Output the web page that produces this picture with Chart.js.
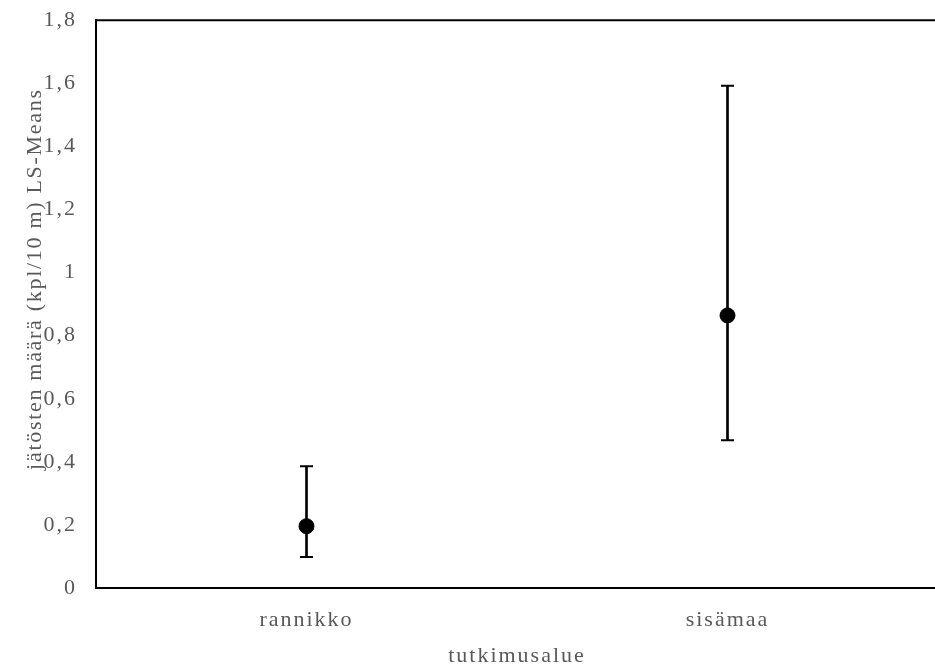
<!DOCTYPE html>
<html>
<head>
<meta charset="utf-8">
<script src="https://cdn.jsdelivr.net/npm/chart.js@4/dist/chart.umd.min.js"></script>
<style>
  html, body { margin: 0; padding: 0; background: #fff; overflow: hidden; }
  #wrap { position: absolute; left: 0; top: -12px; width: 938px; height: 684px; }
</style>
</head>
<body>
<div id="wrap"><canvas id="chart"></canvas></div>
<script>
const categories = ['rannikko', 'sisämaa'];
const means = [0.196, 0.864];
const lower = [0.098, 0.468];
const upper = [0.386, 1.592];
const yTicks = [0, 0.2, 0.4, 0.6, 0.8, 1, 1.2, 1.4, 1.6, 1.8];
const yTitle = 'jätösten määrä (kpl/10 m) LS-Means';

const textColor = '#595959';
const font = { family: 'Liberation Serif', size: 22 };

// Excel-like text is a bit wider; letterSpacing gets reset on canvas resize
const spacing = {
  id: 'spacing',
  beforeUpdate(chart) { chart.ctx.letterSpacing = '2px'; },
  beforeDraw(chart) { chart.ctx.letterSpacing = '2px'; }
};

// top border of the plot box + y title (Excel places it above the plot centre)
const extras = {
  id: 'extras',
  afterDraw(chart) {
    const { ctx, chartArea } = chart;
    ctx.save();
    ctx.strokeStyle = '#000';
    ctx.lineWidth = 2;
    ctx.beginPath();
    ctx.moveTo(chartArea.left - 1, chartArea.top);
    ctx.lineTo(chartArea.right, chartArea.top);
    ctx.stroke();

    ctx.letterSpacing = '1.7px';
    ctx.font = '22px "Liberation Serif"';
    ctx.fillStyle = textColor;
    ctx.textAlign = 'center';
    ctx.textBaseline = 'middle';
    ctx.translate(35, chartArea.top + (chartArea.bottom - chartArea.top) / 2 - 25);
    ctx.rotate(-Math.PI / 2);
    ctx.fillText(yTitle, 0, 0);
    ctx.restore();
  }
};

new Chart(document.getElementById('chart'), {
  data: {
    labels: categories,
    datasets: [
      {
        type: 'bar',
        data: lower.map((lo, i) => [lo, upper[i]]),
        backgroundColor: '#000',
        barThickness: 2,
        order: 3
      },
      {
        type: 'line',
        data: lower,
        showLine: false,
        pointStyle: 'line',
        pointRadius: 6.5,
        pointBorderWidth: 2,
        pointBorderColor: '#000',
        order: 2
      },
      {
        type: 'line',
        data: upper,
        showLine: false,
        pointStyle: 'line',
        pointRadius: 6.5,
        pointBorderWidth: 2,
        pointBorderColor: '#000',
        order: 2
      },
      {
        type: 'line',
        data: means,
        showLine: false,
        pointRadius: 7.5,
        pointBackgroundColor: '#000',
        pointBorderColor: '#000',
        pointBorderWidth: 1,
        order: 1
      }
    ]
  },
  options: {
    responsive: true,
    maintainAspectRatio: false,
    animation: false,
    layout: { autoPadding: false, padding: { top: 0, right: 0, bottom: 0, left: 6 } },
    plugins: { legend: { display: false }, tooltip: { enabled: false } },
    scales: {
      x: {
        type: 'category',
        offset: true,
        grid: { display: false, drawTicks: false },
        border: { display: true, color: '#000', width: 2 },
        ticks: { color: textColor, font: font, padding: 19 },
        title: { display: true, text: 'tutkimusalue', color: textColor, font: font, padding: { top: 8, bottom: 3 } },
        afterFit: (axis) => { axis.height = 84; }
      },
      y: {
        min: 0,
        max: 1.8,
        afterBuildTicks: (axis) => { axis.ticks = yTicks.map(v => ({ value: v })); },
        grid: { display: false, drawTicks: false },
        border: { display: true, color: '#000', width: 2 },
        ticks: {
          color: textColor,
          font: font,
          padding: 19,
          callback: (v) => String(Math.round(v * 10) / 10).replace('.', ',')
        },
        afterFit: (axis) => { axis.width = 90; }
      }
    }
  },
  plugins: [spacing, extras]
});
</script>
</body>
</html>
